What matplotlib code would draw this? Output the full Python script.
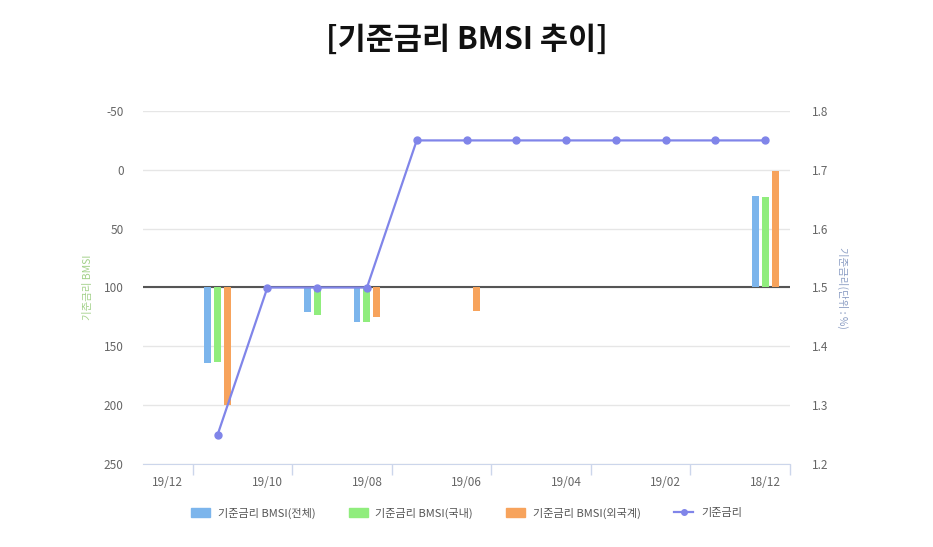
import numpy as np
import matplotlib.pyplot as plt
from matplotlib.patches import Patch
from matplotlib.lines import Line2D

plt.rcParams['font.family'] = ['Noto Sans CJK KR', 'DejaVu Sans']
plt.rcParams['axes.unicode_minus'] = False

months = ['19/12', '19/11', '19/10', '19/09', '19/08', '19/07', '19/06',
          '19/05', '19/04', '19/03', '19/02', '19/01', '18/12']
bmsi_total = [np.nan, 164, np.nan, 121, 129, np.nan, np.nan,
              np.nan, np.nan, np.nan, np.nan, np.nan, 22]
bmsi_domestic = [np.nan, 163, np.nan, 123, 129, np.nan, np.nan,
                 np.nan, np.nan, np.nan, np.nan, np.nan, 23]
bmsi_foreign = [np.nan, 200, np.nan, np.nan, 125, np.nan, 120,
                np.nan, np.nan, np.nan, np.nan, np.nan, 1]
base_rate = [np.nan, 1.25, 1.50, 1.50, 1.50, 1.75, 1.75,
             1.75, 1.75, 1.75, 1.75, 1.75, 1.75]

c_blue = '#7cb5ec'
c_green = '#90ed7d'
c_orange = '#f7a35c'
c_line = '#8085e9'

fig = plt.figure(figsize=(9.33, 5.47), dpi=100)
ax = fig.add_axes([143 / 933, 1 - 464 / 547, 647 / 933, 353 / 547])
ax2 = ax.twinx()

x = np.arange(len(months))
w = 0.14
for off, vals, col in [(-0.2, bmsi_total, c_blue), (0.0, bmsi_domestic, c_green),
                       (0.2, bmsi_foreign, c_orange)]:
    v = np.array(vals, dtype=float)
    ax.bar(x + off, v - 100, bottom=100, width=w, color=col, zorder=3)

ax.axhline(100, color='#555555', lw=1.5, zorder=2)

ax.set_ylim(250, -50)
ax.set_yticks([-50, 0, 50, 100, 150, 200, 250])
ax.set_xlim(-0.5, 12.5)
ax.set_xticks(x[::2])
ax.set_xticklabels(months[::2])
ax.set_xticks(np.arange(0.5, 13, 2), minor=True)
ax.tick_params(axis='x', which='major', length=0, pad=9, labelsize=8.5, labelcolor='#666666')
ax.tick_params(axis='x', which='minor', length=8, color='#ccd6eb', width=1)
ax.tick_params(axis='y', length=0, pad=14, labelsize=8.5, labelcolor='#666666')
ax.grid(axis='y', color='#e6e6e6', lw=1, zorder=0)
for s in ['top', 'left', 'right']:
    ax.spines[s].set_visible(False)
ax.spines['bottom'].set_color('#ccd6eb')
ax.set_ylabel('기준금리 BMSI', color='#a3d18a', fontsize=7.5, labelpad=8)

ax2.plot(x, base_rate, color=c_line, lw=1.6, marker='o', ms=5, zorder=4)
ax2.set_ylim(1.2, 1.8)
ax2.set_yticks([1.2, 1.3, 1.4, 1.5, 1.6, 1.7, 1.8])
ax2.tick_params(axis='y', length=0, pad=16, labelsize=8.5, labelcolor='#666666')
for s in ['top', 'left', 'right', 'bottom']:
    ax2.spines[s].set_visible(False)
ax2.set_ylabel('기준금리(단위 : %)', color='#8c9ec4', fontsize=7.5, rotation=270, labelpad=14)

fig.text(0.5, 1 - 40 / 547, '[기준금리 BMSI 추이]', ha='center', va='center',
         fontsize=22, fontweight='bold', color='#111111')

handles = [Patch(color=c_blue), Patch(color=c_green), Patch(color=c_orange),
           Line2D([], [], color=c_line, marker='o', ms=4, lw=1.6)]
labels = ['기준금리 BMSI(전체)', '기준금리 BMSI(국내)', '기준금리 BMSI(외국계)', '기준금리']
leg = fig.legend(handles, labels, loc='center', bbox_to_anchor=(0.5, 1 - 513 / 547),
                 ncol=4, frameon=False, fontsize=8, handlelength=1.7, handleheight=0.9,
                 columnspacing=3.0, handletextpad=0.7)
for t in leg.get_texts():
    t.set_color('#555555')

fig.savefig('out.png', dpi=100)
